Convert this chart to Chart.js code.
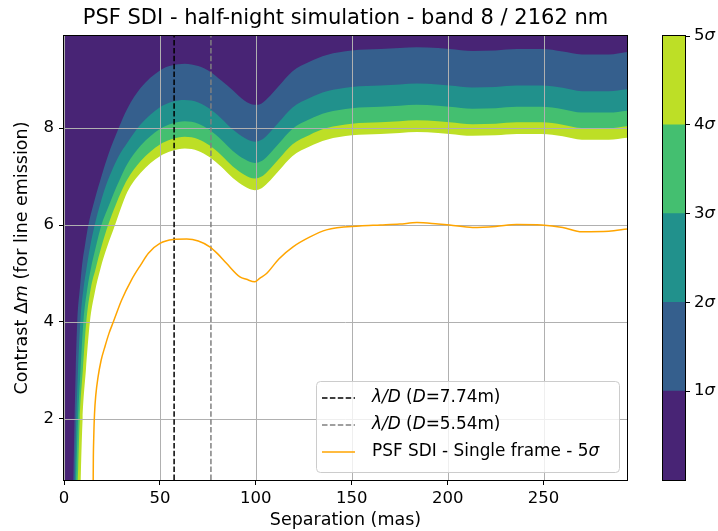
<!DOCTYPE html>
<html>
<head>
<meta charset="utf-8">
<script src="https://cdn.jsdelivr.net/npm/chart.js@4/dist/chart.umd.min.js"></script>
<style>
  body { margin: 0; background: #fff; }
  #wrap { position: relative; width: 718px; height: 531px; }
  #main { position: absolute; left: 0; top: 0; }
  #cbar { position: absolute; left: 640px; top: 0; }
</style>
</head>
<body>
<div id="wrap">
  <canvas id="main" width="718" height="531"></canvas>
  <canvas id="cbar" width="78" height="531"></canvas>
</div>
<script>
const FONT = 'DejaVu Sans';

// axes
const xRange = [0, 293.5];
const yRange = [0.74, 9.9];
const xTicks = [0, 50, 100, 150, 200, 250];
const yTicks = [2, 4, 6, 8];

// contour levels (sigma) and their viridis colours
const levels = [0, 1, 2, 3, 4, 5];
const levelColors = ['#482475', '#355f8d', '#21918c', '#44bf70', '#bddf26'];

// contour boundaries, separation (mas) vs contrast
const sig1X = [0, 4.6, 5.0, 5.5, 6.1, 6.9, 8.3, 9.5, 11, 12.7, 15.5, 18.8, 23, 28.3, 33, 40, 50, 56, 63, 70, 76, 82, 88, 94, 99.5, 103, 106, 112, 119, 128, 137, 150, 165, 175, 184, 195, 201, 213, 225, 236, 249, 260, 270, 284, 293.5];
const sig1Y = [-3, 0.3, 1.0, 2.0, 3.0, 4.0, 4.7, 5.2, 5.6, 6.0, 6.45, 6.91, 7.44, 7.98, 8.4, 8.83, 9.19, 9.29, 9.33, 9.28, 9.17, 8.98, 8.78, 8.57, 8.48, 8.51, 8.61, 8.87, 9.17, 9.37, 9.51, 9.6, 9.63, 9.65, 9.67, 9.65, 9.63, 9.59, 9.6, 9.63, 9.63, 9.58, 9.52, 9.52, 9.57];

const sig2X = [0, 5.3, 5.8, 6.4, 7.3, 8.5, 10.2, 11.7, 13.6, 16, 19, 22, 24.5, 28.5, 33, 40, 50, 56, 63, 70, 76, 82, 88, 94, 99.5, 103, 106, 112, 119, 128, 137, 150, 165, 175, 184, 195, 201, 213, 225, 236, 249, 260, 270, 284, 293.5];
const sig2Y = [-3, 0.3, 1.0, 2.0, 3.0, 4.0, 4.7, 5.1, 5.55, 6.0, 6.45, 6.83, 7.08, 7.42, 7.7, 8.08, 8.43, 8.54, 8.58, 8.53, 8.4, 8.2, 7.97, 7.8, 7.72, 7.76, 7.86, 8.12, 8.42, 8.62, 8.76, 8.85, 8.88, 8.9, 8.92, 8.9, 8.88, 8.84, 8.85, 8.88, 8.88, 8.83, 8.76, 8.76, 8.8];

const sig3X = [0, 5.9, 6.5, 7.3, 8.6, 10.1, 12.2, 14, 16.6, 19.5, 23, 26, 29.2, 33, 40, 50, 56, 63, 70, 76, 82, 88, 94, 99.5, 103, 106, 112, 119, 128, 137, 150, 165, 175, 184, 195, 201, 213, 225, 236, 249, 260, 270, 284, 293.5];
const sig3Y = [-3, 0.3, 1.0, 2.0, 3.0, 4.0, 4.7, 5.1, 5.55, 6.0, 6.36, 6.66, 6.95, 7.26, 7.64, 7.98, 8.09, 8.14, 8.09, 7.96, 7.76, 7.53, 7.36, 7.28, 7.32, 7.42, 7.68, 7.98, 8.18, 8.32, 8.41, 8.44, 8.46, 8.48, 8.46, 8.44, 8.4, 8.41, 8.44, 8.44, 8.39, 8.32, 8.32, 8.36];

const sig4X = [0, 6.6, 7.4, 8.2, 9.8, 11.6, 14, 16.5, 19.5, 23, 27, 30, 33, 40, 50, 56, 63, 70, 76, 82, 88, 94, 99.5, 103, 106, 112, 119, 128, 137, 150, 165, 175, 184, 195, 201, 213, 225, 236, 249, 260, 270, 284, 293.5];
const sig4Y = [-3, 0.3, 1.0, 2.0, 3.0, 4.0, 4.7, 5.1, 5.55, 6.0, 6.42, 6.7, 6.94, 7.32, 7.66, 7.77, 7.82, 7.77, 7.64, 7.44, 7.21, 7.04, 6.96, 7.0, 7.1, 7.36, 7.66, 7.86, 8.0, 8.09, 8.12, 8.14, 8.16, 8.14, 8.12, 8.08, 8.09, 8.12, 8.12, 8.07, 8.0, 8.0, 8.04];

const sig5X = [0, 8.3, 8.8, 9.7, 11.4, 13.5, 16, 19, 22.5, 26.6, 29.5, 33, 40, 50, 56, 63, 70, 76, 82, 88, 94, 99.5, 103, 106, 112, 119, 128, 137, 150, 165, 175, 184, 195, 201, 213, 225, 236, 249, 260, 270, 284, 293.5];
const sig5Y = [-3, 0.0, 0.9, 2.0, 3.0, 4.0, 4.6, 5.1, 5.55, 6.0, 6.33, 6.68, 7.08, 7.42, 7.53, 7.58, 7.53, 7.4, 7.2, 6.97, 6.8, 6.72, 6.76, 6.86, 7.12, 7.42, 7.62, 7.76, 7.85, 7.88, 7.9, 7.92, 7.9, 7.88, 7.84, 7.85, 7.88, 7.88, 7.83, 7.76, 7.76, 7.8];

// single frame 5 sigma curve
const sfX = [15.2, 15.3, 15.5, 15.9, 16.6, 17.7, 19.3, 21.4, 23.5, 25.7, 30, 35.2, 40, 44, 50, 57, 64, 70, 76, 80, 84.7, 91.7, 95.1, 99.5, 102, 105.6, 112, 119.4, 128, 136.8, 154, 165, 175, 184, 195, 201, 213, 225, 236, 249, 260, 270, 284, 293.5];
const sfY = [0.6, 1.2, 1.6, 2.1, 2.5, 2.85, 3.2, 3.5, 3.77, 4.0, 4.45, 4.87, 5.18, 5.42, 5.62, 5.7, 5.71, 5.67, 5.55, 5.41, 5.21, 4.93, 4.88, 4.83, 4.9, 5.0, 5.3, 5.55, 5.75, 5.9, 5.98, 6.0, 6.02, 6.05, 6.02, 6.0, 5.95, 5.97, 6.01, 6.0, 5.95, 5.86, 5.87, 5.92];

// lambda/D for D = 7.74 m and D = 5.54 m (mas)
const lamD = [57.4, 76.6];

const pts = (xs, ys) => xs.map((x, i) => ({x: x, y: ys[i]}));
const vline = v => [{x: v, y: yRange[0]}, {x: v, y: yRange[1]}];

const contourSets = [[sig1X, sig1Y], [sig2X, sig2Y], [sig3X, sig3Y], [sig4X, sig4Y], [sig5X, sig5Y]]
  .map(([xs, ys], i) => ({
    id: 'sig' + (i + 1),
    data: pts(xs, ys),
    borderWidth: 0,
    borderColor: 'rgba(0,0,0,0)',
    backgroundColor: levelColors[i],
    fill: 'end',
    order: i + 1,
    pointRadius: 0,
    cubicInterpolationMode: 'monotone',
    clip: 0
  }));

const lineSets = [
  {id: 'sf', label: 'PSF SDI - Single frame - 5σ', data: pts(sfX, sfY), borderColor: '#ffa500', borderWidth: 1.5,
   cubicInterpolationMode: 'monotone'},
  {id: 'd774', label: 'λ/D (D=7.74m)', data: vline(lamD[0]), borderColor: '#000', borderWidth: 1.5, borderDash: [5.5, 2.4]},
  {id: 'd554', label: 'λ/D (D=5.54m)', data: vline(lamD[1]), borderColor: '#808080', borderWidth: 1.5, borderDash: [5.5, 2.4]}
].map(d => Object.assign({fill: false, pointRadius: 0, order: 0, clip: 0}, d));

// text helper for mixed upright / italic runs
function font(size, italic) {
  return (italic ? 'italic ' : '') + size + 'px "' + FONT + '"';
}
function drawRuns(ctx, runs, x, y, size, align) {
  const widths = runs.map(([t, it]) => { ctx.font = font(size, it); return ctx.measureText(t).width; });
  const total = widths.reduce((a, b) => a + b, 0);
  let cx = align === 'center' ? x - total / 2 : x;
  ctx.textAlign = 'left';
  ctx.textBaseline = 'middle';
  runs.forEach(([t, it], i) => { ctx.font = font(size, it); ctx.fillText(t, cx, y); cx += widths[i]; });
}

const legendRuns = {
  d774: [['λ/D', true], [' (', false], ['D', true], ['=7.74m)', false]],
  d554: [['λ/D', true], [' (', false], ['D', true], ['=5.54m)', false]],
  sf: [['PSF SDI - Single frame - 5', false], ['σ', true]]
};

const gridAndFrame = {
  id: 'gridAndFrame',
  afterDatasetDraw(chart, args) {
    if (chart.data.datasets[args.index].id !== 'sig1') return;
    const {ctx, chartArea: a, scales: {x, y}} = chart;
    ctx.save();
    ctx.strokeStyle = '#b0b0b0';
    ctx.lineWidth = 1;
    ctx.beginPath();
    xTicks.forEach(v => {
      const px = Math.round(x.getPixelForValue(v)) + 0.5;
      ctx.moveTo(px, a.top); ctx.lineTo(px, a.bottom);
    });
    yTicks.forEach(v => {
      const py = Math.round(y.getPixelForValue(v)) + 0.5;
      ctx.moveTo(a.left, py); ctx.lineTo(a.right, py);
    });
    ctx.stroke();
    ctx.restore();
  },
  afterDatasetsDraw(chart) {
    const {ctx, chartArea: a} = chart;
    ctx.save();
    ctx.strokeStyle = '#000';
    ctx.lineWidth = 1;
    ctx.strokeRect(Math.round(a.left) - 0.5, Math.round(a.top) - 0.5,
      Math.round(a.right - a.left) + 1, Math.round(a.bottom - a.top) + 1);
    ctx.restore();
  }
};

const textBits = {
  id: 'textBits',
  afterDraw(chart) {
    const {ctx, chartArea: a} = chart;
    // y axis title
    ctx.save();
    ctx.fillStyle = '#000';
    ctx.translate(22, (a.top + a.bottom) / 2);
    ctx.rotate(-Math.PI / 2);
    drawRuns(ctx, [['Contrast Δ', false], ['m', true], [' (for line emission)', false]], 0, 0, 17.5, 'center');
    ctx.restore();

    // legend box, lower right
    const w = 303, h = 91;
    const x0 = a.right - 8 - w, y0 = a.bottom - 8 - h;
    ctx.save();
    ctx.beginPath();
    ctx.roundRect(x0 + 0.5, y0 + 0.5, w, h, 4);
    ctx.fillStyle = 'rgba(255,255,255,0.8)';
    ctx.fill();
    ctx.strokeStyle = '#cccccc';
    ctx.lineWidth = 1;
    ctx.stroke();
    ['d774', 'd554', 'sf'].forEach((id, i) => {
      const ds = chart.data.datasets.find(d => d.id === id);
      const ry = y0 + 17 + i * 27;
      ctx.beginPath();
      ctx.setLineDash(ds.borderDash || []);
      ctx.strokeStyle = ds.borderColor;
      ctx.lineWidth = ds.borderWidth;
      ctx.moveTo(x0 + 6, ry);
      ctx.lineTo(x0 + 39, ry);
      ctx.stroke();
      ctx.setLineDash([]);
      ctx.fillStyle = '#000';
      drawRuns(ctx, legendRuns[id], x0 + 56, ry, 16.9, 'left');
    });
    ctx.restore();
  }
};

Chart.defaults.font.family = FONT;
Chart.defaults.color = '#000';

new Chart(document.getElementById('main'), {
  type: 'line',
  data: {datasets: lineSets.concat(contourSets)},
  options: {
    responsive: false,
    animation: false,
    devicePixelRatio: 1,
    layout: {padding: {left: 0, right: 91, top: 0, bottom: 0}},
    plugins: {
      legend: {display: false},
      tooltip: {enabled: false},
      title: {
        display: true,
        fullSize: false,
        text: 'PSF SDI - half-night simulation - band 8 / 2162 nm',
        font: {family: FONT, size: 21, weight: 'normal'},
        color: '#000',
        padding: {top: 6, bottom: 4.8}
      }
    },
    scales: {
      x: {
        type: 'linear',
        min: xRange[0], max: xRange[1],
        afterBuildTicks: s => { s.ticks = xTicks.map(v => ({value: v})); },
        afterFit: s => { s.height = 51; },
        grid: {drawOnChartArea: false, drawTicks: true, tickLength: 5, tickColor: '#000'},
        border: {display: false},
        ticks: {font: {family: FONT, size: 16.5}, color: '#000', padding: 4, maxRotation: 0},
        title: {display: true, text: 'Separation (mas)', font: {family: FONT, size: 17.5}, color: '#000', padding: 0}
      },
      y: {
        type: 'linear',
        min: yRange[0], max: yRange[1],
        afterBuildTicks: s => { s.ticks = yTicks.map(v => ({value: v})); },
        afterFit: s => { s.width = 64; },
        grid: {drawOnChartArea: false, drawTicks: true, tickLength: 5, tickColor: '#000'},
        border: {display: false},
        ticks: {font: {family: FONT, size: 16.5}, color: '#000', padding: 5}
      }
    }
  },
  plugins: [gridAndFrame, textBits]
});

// colour bar
const cbarBits = {
  id: 'cbarBits',
  afterDatasetsDraw(chart) {
    const {ctx, chartArea: a, scales: {y}} = chart;
    ctx.save();
    ctx.strokeStyle = '#000';
    ctx.lineWidth = 1;
    ctx.strokeRect(Math.round(a.left) - 0.5, Math.round(a.top) - 0.5,
      Math.round(a.right - a.left) + 1, Math.round(a.bottom - a.top) + 1);
    ctx.fillStyle = '#000';
    levels.slice(1).forEach(v => {
      drawRuns(ctx, [[String(v), false], ['σ', true]], a.right + 9, y.getPixelForValue(v), 16.5, 'left');
    });
    ctx.restore();
  }
};

new Chart(document.getElementById('cbar'), {
  type: 'bar',
  data: {
    labels: [''],
    datasets: levelColors.map((c, i) => ({
      data: [levels[i + 1] - levels[i]],
      backgroundColor: c,
      borderWidth: 0,
      barPercentage: 1,
      categoryPercentage: 1
    }))
  },
  options: {
    responsive: false,
    animation: false,
    devicePixelRatio: 1,
    layout: {padding: {left: 23, top: 36, bottom: 51, right: 0}},
    plugins: {legend: {display: false}, tooltip: {enabled: false}},
    scales: {
      x: {display: false, stacked: true},
      y: {
        stacked: true,
        position: 'right',
        min: levels[0], max: levels[levels.length - 1],
        afterBuildTicks: s => { s.ticks = levels.slice(1).map(v => ({value: v})); },
        afterFit: s => { s.width = 33; },
        grid: {drawOnChartArea: false, drawTicks: true, tickLength: 5, tickColor: '#000'},
        border: {display: false},
        ticks: {display: false}
      }
    }
  },
  plugins: [cbarBits]
});
</script>
</body>
</html>
